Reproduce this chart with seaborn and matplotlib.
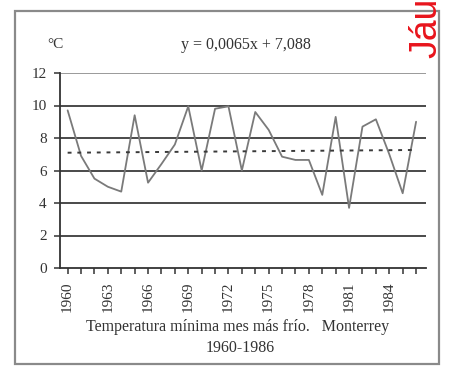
import matplotlib
matplotlib.use("Agg")
import matplotlib.pyplot as plt
import seaborn as sns
import pandas as pd
import numpy as np
from matplotlib.patches import Rectangle

years = list(range(1960, 1987))
temps = [9.7, 6.9, 5.5, 5.0, 4.7, 9.4, 5.25, 6.4, 7.6, 9.95,
         6.0, 9.8, 9.95, 6.0, 9.6, 8.5, 6.85, 6.65, 6.65, 4.5,
         9.3, 3.7, 8.7, 9.15, 7.0, 4.6, 9.0]
trend_slope = 0.0065
trend_intercept = 7.088
tick_years = [1960, 1963, 1966, 1969, 1972, 1975, 1978, 1981, 1984]
y_ticks = [0, 2, 4, 6, 8, 10, 12]

df = pd.DataFrame({"idx": np.arange(len(years)), "year": years, "temp": temps})
df["trend"] = trend_intercept + trend_slope * (df["idx"] + 1)

sns.set_theme(style="white")
plt.rcParams["font.family"] = ["Liberation Serif", "DejaVu Serif"]

W, H = 461, 368
fig = plt.figure(figsize=(W / 100, H / 100), dpi=100)
fig.patch.set_facecolor("white")

# outer frame
fig.patches.append(Rectangle((15 / W, 1 - 364 / H), (439 - 15) / W, (364 - 11) / H,
                             transform=fig.transFigure, fill=False,
                             edgecolor="#8a8a8a", linewidth=1.6))

ax = fig.add_axes([60 / W, 1 - 268 / H, (426 - 60) / W, (268 - 73) / H])
ax.set_facecolor("white")

for yv in y_ticks[1:]:
    ax.axhline(yv, color="#9a9a9a" if yv == 12 else "#4a4a4a",
               linewidth=1.4, zorder=1)

sns.lineplot(data=df, x="idx", y="temp", ax=ax, color="#7a7a7a",
             linewidth=1.3, zorder=3)
sns.lineplot(data=df, x="idx", y="trend", ax=ax, color="#3a3a3a",
             linewidth=1.4, linestyle=(0, (2, 3)), zorder=4)

ax.set_xlim(-0.57, 26.74)
ax.set_ylim(0, 12)
ax.set_yticks(y_ticks)
ax.set_yticklabels([str(v) for v in y_ticks], fontsize=11, color="#333333")
ax.set_xticks(df["idx"])
ax.set_xticklabels([str(y) if y in tick_years else "" for y in years],
                   rotation=90, fontsize=11, color="#333333")
ax.tick_params(axis="both", direction="out", length=4.5, width=1.1,
               color="#333333", bottom=True, left=True)
ax.tick_params(axis="x", pad=5)
ax.tick_params(axis="y", pad=5)
for s in ["top", "right"]:
    ax.spines[s].set_visible(False)
for s in ["left", "bottom"]:
    ax.spines[s].set_color("#333333")
    ax.spines[s].set_linewidth(1.3)
ax.set_xlabel("")
ax.set_ylabel("")

fig.text(55 / W, 1 - 44 / H, "°C", fontsize=11, color="#333333",
         ha="center", va="center")
fig.text(246 / W, 1 - 45 / H, "y = 0,0065x + 7,088", fontsize=11.5,
         color="#333333", ha="center", va="center")
fig.text(238 / W, 1 - 327 / H,
         "Temperatura mínima mes más frío.   Monterrey", fontsize=11.5,
         color="#333333", ha="center", va="center")
fig.text(240 / W, 1 - 348 / H, "1960-1986", fontsize=11.5,
         color="#333333", ha="center", va="center")
fig.text(426 / W, 1 - 58 / H, "Jáu", fontsize=27, color="#e8141c",
         rotation=90, ha="center", va="bottom",
         family=["Liberation Sans", "DejaVu Sans"])

fig.savefig("out.png", dpi=100, facecolor="white")
